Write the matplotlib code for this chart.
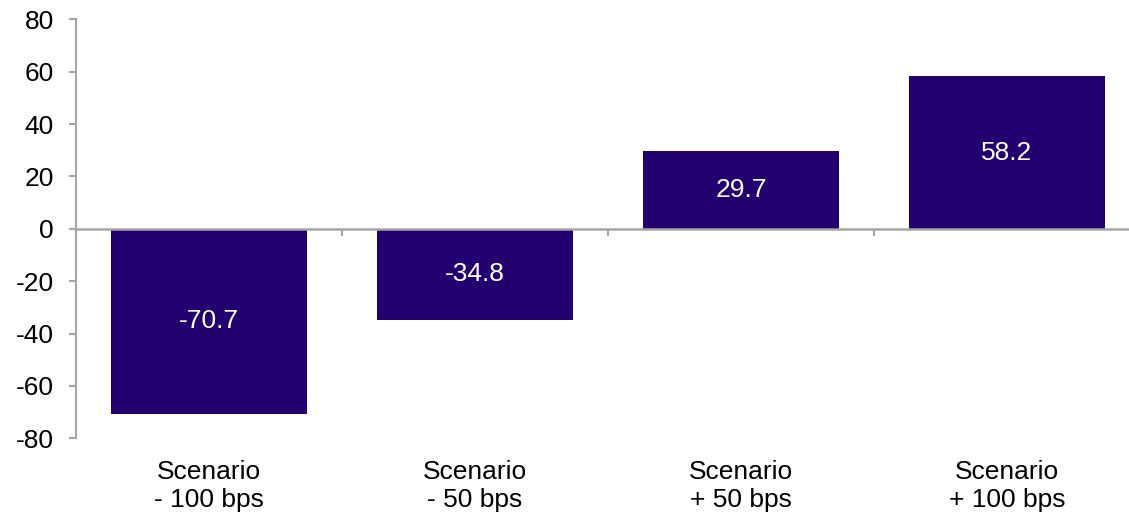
import matplotlib
matplotlib.use("Agg")
import matplotlib.pyplot as plt
import matplotlib.transforms as mtransforms

categories = ["Scenario\n- 100 bps", "Scenario\n- 50 bps", "Scenario\n+ 50 bps", "Scenario\n+ 100 bps"]
values = [-70.7, -34.8, 29.7, 58.2]
value_labels = ["-70.7", "-34.8", "29.7", "58.2"]
yticks = [-80, -60, -40, -20, 0, 20, 40, 60, 80]

plt.rcParams['font.family'] = ['Liberation Sans', 'DejaVu Sans']
bar_color = '#22006F'
axis_color = '#A6A6A6'
fs = 19

fig = plt.figure(figsize=(11.29, 5.14), dpi=100)
W, H = 1129, 514
left, right = 76 / W, 1140 / W
bottom, top = (H - 438.3) / H, (H - 19.3) / H
ax = fig.add_axes([left, bottom, right - left, top - bottom])

x = list(range(len(categories)))
bars = ax.bar(x, values, width=0.74, color=bar_color, zorder=2)
for xi, v, lab in zip(x, values, value_labels):
    ax.text(xi, v / 2, lab, ha='center', va='center', color='white', fontsize=fs, zorder=3)

ax.set_xlim(-0.5, len(categories) - 0.5)
ax.set_ylim(-80, 80)
ax.set_yticks(yticks)
ax.set_yticklabels([str(t) for t in yticks], fontsize=fs)

for s in ['top', 'right']:
    ax.spines[s].set_visible(False)
ax.spines['left'].set_color(axis_color)
ax.spines['left'].set_linewidth(1.5)
ax.spines['bottom'].set_position(('data', 0))
ax.spines['bottom'].set_color(axis_color)
ax.spines['bottom'].set_linewidth(1.8)
ax.spines['bottom'].set_zorder(4)

ax.tick_params(axis='y', direction='out', length=5, width=1.5, color=axis_color, pad=11, labelcolor='black')
bounds = [i + 0.5 for i in range(len(categories) - 1)]
ax.set_xticks(bounds)
ax.set_xticklabels([''] * len(bounds))
ax.tick_params(axis='x', direction='out', length=5, width=1.5, color=axis_color)

trans = mtransforms.blended_transform_factory(ax.transData, ax.transAxes)
for xi, c in zip(x, categories):
    ax.text(xi, -0.052, c, transform=trans, ha='center', va='top', fontsize=fs,
            linespacing=1.22, color='black')

fig.savefig("out.png", dpi=100)
